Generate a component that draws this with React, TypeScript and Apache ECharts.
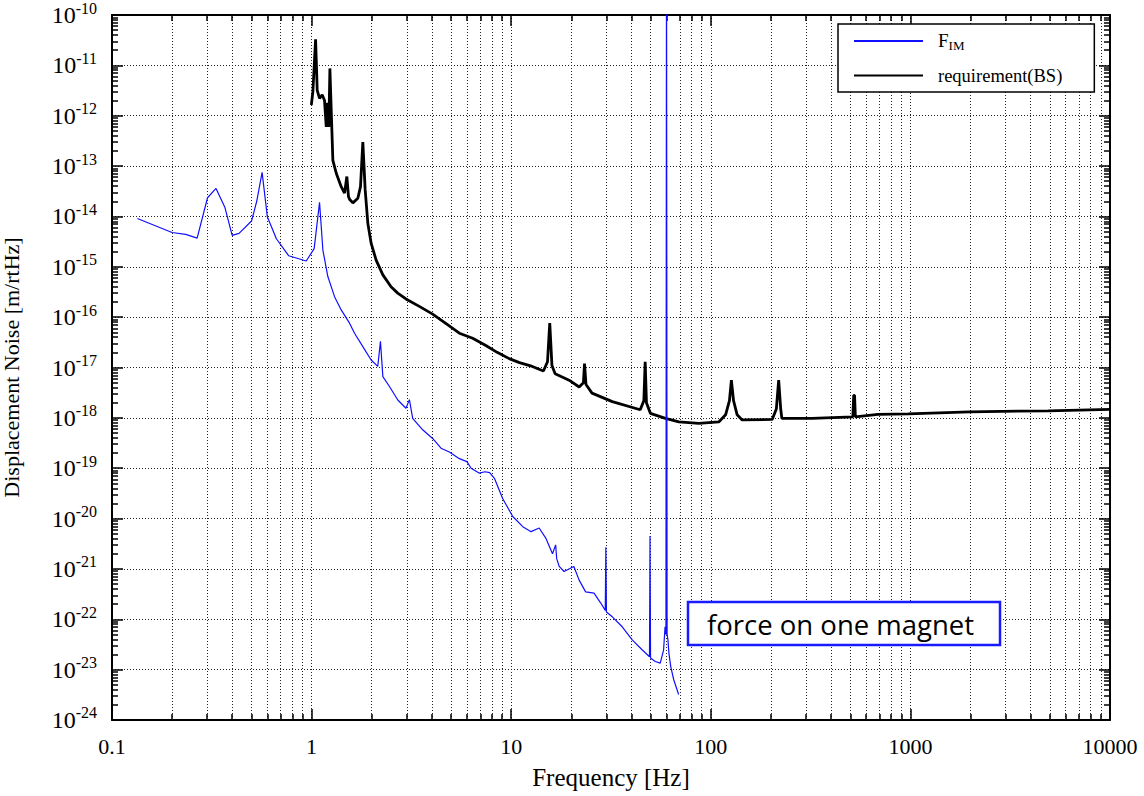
import React, { useEffect, useRef } from "react";
import * as echarts from "echarts";

// ---- Data ----
const fimFreq = [
  0.134, 0.2, 0.234, 0.267, 0.301, 0.332, 0.368, 0.4, 0.433, 0.5, 0.531, 0.565, 0.6, 0.666, 0.767, 0.871, 0.94,
  1.03, 1.096, 1.139, 1.206, 1.303, 1.407, 1.549, 1.641, 1.806, 1.987, 2.145, 2.213, 2.275, 2.455, 2.703, 2.97,
  3.09, 3.21, 3.6, 4.04, 4.45, 4.9, 5.5, 6.0, 6.3, 6.9, 7.4, 7.8, 8.24, 9.06, 10.18, 11.43, 12.58, 13.8, 14.9,
  16.1, 16.7, 16.9, 17.4, 18.4, 20.6, 21.9, 23.6, 26.0, 28.1, 29.6, 29.8, 30.0, 32.1, 36.0, 40.4, 45.4, 49.3,
  49.6, 49.9, 52.7, 55.8, 58.0, 59.0, 59.6, 60.0, 60.4, 61.0, 61.7, 63.0, 65.2, 69.0,
];
const fimAmp = [
  9.1e-15, 4.8e-15, 4.4e-15, 3.7e-15, 2.35e-14, 3.6e-14, 1.5e-14, 4.2e-15, 4.6e-15, 8.1e-15, 2.0e-14, 7.5e-14,
  9.9e-15, 3.6e-15, 1.66e-15, 1.43e-15, 1.3e-15, 2.3e-15, 1.9e-14, 2.15e-15, 6.4e-16, 2.55e-16, 1.39e-16,
  7.6e-17, 4.8e-17, 2.6e-17, 1.41e-17, 1.05e-17, 3.3e-17, 6.6e-18, 4.2e-18, 2.26e-18, 1.55e-18, 2.3e-18,
  9.8e-19, 5.8e-19, 3.9e-19, 2.5e-19, 2.1e-19, 1.55e-19, 1.35e-19, 1.0e-19, 8.0e-20, 8.5e-20, 8.2e-20, 6.3e-20,
  2.5e-20, 1.1e-20, 6.9e-21, 5.5e-21, 6.5e-21, 4.1e-21, 2.0e-21, 3.0e-21, 1.6e-21, 1.12e-21, 8.9e-22, 1.12e-21,
  6.0e-22, 3.5e-22, 3.3e-22, 2.1e-22, 1.5e-22, 2.7e-21, 1.4e-22, 1.12e-22, 7.1e-23, 3.9e-23, 2.45e-23, 1.8e-23,
  4.5e-21, 1.7e-23, 1.45e-23, 1.35e-23, 2.45e-23, 7.1e-23, 5e-23, 1e-8, 5e-23, 3.9e-23, 2.1e-23, 1.15e-23,
  6.3e-24, 3.2e-24,
];

const reqFreq = [
  0.997, 1.015, 1.047, 1.067, 1.096, 1.13, 1.161, 1.184, 1.198, 1.22, 1.235, 1.254, 1.278, 1.329, 1.407, 1.462,
  1.502, 1.53, 1.549, 1.61, 1.705, 1.758, 1.806, 1.855, 1.914, 1.987, 2.105, 2.275, 2.5, 2.7, 2.97, 3.5, 4.04,
  4.7, 5.5, 6.41, 7.5, 8.5, 9.77, 11, 12.5, 14.5, 15.2, 15.6, 16.0, 16.6, 19.5, 21.9, 23.0, 23.3, 23.7, 25.4,
  32.1, 44.3, 46.2, 46.9, 47.6, 49.8, 59.3, 69.2, 87.1, 109.6, 118.6, 124, 126.8, 130, 135.5, 143.6, 203, 213,
  218.8, 224, 227, 321, 515, 520, 525, 530, 687, 977, 1976, 4898, 10000,
];
const reqAmp = [
  1.63e-12, 3.0e-12, 3.3e-11, 3.2e-12, 2.2e-12, 2.6e-12, 2.0e-12, 6.0e-13, 1.8e-12, 6.0e-13, 8.7e-12, 1.3e-12,
  1.3e-13, 7.2e-14, 3.9e-14, 2.9e-14, 6.2e-14, 2.5e-14, 2.2e-14, 1.86e-14, 2.3e-14, 3.9e-14, 3.0e-13, 3.4e-14,
  7.2e-15, 2.95e-15, 1.36e-15, 6.9e-16, 4.0e-16, 3.0e-16, 2.3e-16, 1.6e-16, 1.15e-16, 7.5e-17, 4.8e-17,
  3.8e-17, 2.7e-17, 2.0e-17, 1.5e-17, 1.25e-17, 1.08e-17, 8.5e-18, 1.3e-17, 7.6e-17, 1.1e-17, 7.5e-18, 5.6e-18,
  4.1e-18, 5.0e-18, 1.2e-17, 4.6e-18, 3.1e-18, 2.1e-18, 1.45e-18, 2.2e-18, 1.3e-17, 2.0e-18, 1.23e-18, 9.8e-19,
  8.3e-19, 7.8e-19, 8.3e-19, 1.15e-18, 2.2e-18, 5.6e-18, 2.2e-18, 1.15e-18, 9.1e-19, 9.3e-19, 1.5e-18, 5.6e-18,
  1.5e-18, 9.8e-19, 9.8e-19, 1.05e-18, 2.8e-18, 2.8e-18, 1.05e-18, 1.17e-18, 1.2e-18, 1.32e-18, 1.38e-18,
  1.48e-18,
];

const xDecades = [0.1, 1, 10, 100, 1000];
const yDecades = [1e-24, 1e-23, 1e-22, 1e-21, 1e-20, 1e-19, 1e-18, 1e-17, 1e-16, 1e-15, 1e-14, 1e-13, 1e-12, 1e-11];
const minorMult = [2, 3, 4, 5, 6, 7, 8, 9];

const X_MIN = 0.1, X_MAX = 10000, Y_MIN = 1e-24, Y_MAX = 1e-10;
const GRID = { left: 112, top: 15, width: 998, height: 705 };
const SERIF = "'Liberation Serif', 'Times New Roman', serif";

export default function App() {
  const ref = useRef<HTMLDivElement>(null);
  useEffect(() => {
    if (!ref.current) return;
    const chart = echarts.init(ref.current, undefined, { renderer: "svg" });

    const xDecPx = GRID.width / Math.log10(X_MAX / X_MIN);
    const yDecPx = GRID.height / Math.log10(Y_MAX / Y_MIN);
    const minorLen = 6;
    const fx = Math.pow(10, minorLen / xDecPx);
    const fy = Math.pow(10, minorLen / yDecPx);

    const gridLines: any[] = [];
    const tickLines: any[] = [];
    xDecades.forEach((d) => {
      minorMult.forEach((m) => {
        const x = d * m;
        gridLines.push([{ coord: [x, Y_MIN] }, { coord: [x, Y_MAX] }]);
        tickLines.push([{ coord: [x, Y_MIN] }, { coord: [x, Y_MIN * fy] }]);
        tickLines.push([{ coord: [x, Y_MAX] }, { coord: [x, Y_MAX / fy] }]);
      });
    });
    yDecades.forEach((d) => {
      minorMult.forEach((m) => {
        const y = d * m;
        tickLines.push([{ coord: [X_MIN, y] }, { coord: [X_MIN * fx, y] }]);
        tickLines.push([{ coord: [X_MAX, y] }, { coord: [X_MAX / fx, y] }]);
      });
    });

    // label positions: every decade, nudged just inside the extent to survive float rounding
    const yLabelValues = [...yDecades, Y_MAX].map((v) =>
      v === Y_MIN ? v * 1.0001 : v === Y_MAX ? v * 0.9999 : v
    );

    const dotted = { color: "#222", width: 1, type: [1, 2] as any };

    const xLabel = (v: number) => {
      const e = Math.round(Math.log10(v));
      return e < 0 ? Math.pow(10, e).toFixed(-e) : String(Math.round(Math.pow(10, e)));
    };
    const yLabel = (v: number) => {
      const e = Math.round(Math.log10(v));
      return "{b|10}{s|" + e + "}";
    };

    const axisCommonX = {
      type: "log",
      logBase: 10,
      min: X_MIN,
      max: X_MAX,
      interval: 1,
      axisLine: { show: true, onZero: false, lineStyle: { color: "#000", width: 2 } },
      axisTick: { show: true, inside: true, length: 11, lineStyle: { color: "#000", width: 1.5 } },
    };
    const axisCommonY = {
      type: "log",
      logBase: 10,
      min: Y_MIN,
      max: Y_MAX,
      interval: 1,
      axisLine: { show: true, onZero: false, lineStyle: { color: "#000", width: 2 } },
      axisTick: { show: true, inside: true, length: 11, lineStyle: { color: "#000", width: 1.5 } },
    };

    chart.setOption({
      animation: false,
      textStyle: { fontFamily: SERIF, color: "#000" },
      grid: {
        left: GRID.left,
        top: GRID.top,
        width: GRID.width,
        height: GRID.height,
        containLabel: false,
        outerBoundsMode: "none",
      },
      legend: {
        data: ["F_IM", "requirement(BS)"],
        orient: "vertical",
        left: 838,
        top: 24,
        padding: [7, 32, 7, 15],
        itemGap: 14,
        itemWidth: 69,
        itemHeight: 15,
        borderColor: "#000",
        borderWidth: 1.5,
        backgroundColor: "#fff",
        itemStyle: { opacity: 0 },
        z: 50,
        formatter: (name: string) => (name === "F_IM" ? "{f|F}{sub|IM}" : "{r|requirement(BS)}"),
        textStyle: {
          fontFamily: SERIF,
          color: "#000",
          padding: [0, 0, 0, 10],
          rich: {
            f: { fontSize: 19, fontFamily: SERIF, verticalAlign: "top", lineHeight: 20 },
            sub: { fontSize: 13, fontFamily: SERIF, verticalAlign: "top", lineHeight: 13, padding: [8, 0, 0, 0] },
            r: { fontSize: 18.5, fontFamily: SERIF },
          },
        },
      },
      xAxis: [
        {
          ...axisCommonX,
          position: "bottom",
          name: "Frequency [Hz]",
          nameLocation: "middle",
          nameGap: 45,
          nameMoveOverlap: false,
          nameTextStyle: { fontSize: 25, fontFamily: SERIF, color: "#000" },
          axisLabel: {
            show: true,
            formatter: xLabel,
            fontSize: 22,
            fontFamily: SERIF,
            color: "#000",
            margin: 15,
            showMinLabel: true,
            showMaxLabel: true,
            hideOverlap: false,
          },
          splitLine: { show: true, lineStyle: dotted },
        },
        {
          ...axisCommonX,
          position: "top",
          axisLabel: { show: false },
          splitLine: { show: false },
        },
      ],
      yAxis: [
        {
          ...axisCommonY,
          position: "left",
          name: "Displacement Noise [m/rtHz]",
          nameLocation: "middle",
          nameRotate: 90,
          nameGap: 90,
          nameMoveOverlap: false,
          nameTextStyle: { fontSize: 22, fontFamily: SERIF, color: "#000" },
          axisLabel: {
            show: true,
            customValues: yLabelValues,
            formatter: yLabel,
            margin: 15,
            color: "#000",
            showMinLabel: true,
            showMaxLabel: true,
            hideOverlap: false,
            rich: {
              b: { fontSize: 24, fontFamily: SERIF, color: "#000", verticalAlign: "bottom", lineHeight: 24 },
              s: { fontSize: 16, fontFamily: SERIF, color: "#000", verticalAlign: "bottom", lineHeight: 16, padding: [0, 0, 11, 0] },
            },
          },
          splitLine: { show: true, lineStyle: dotted },
        },
        {
          ...axisCommonY,
          position: "right",
          axisLabel: { show: false },
          splitLine: { show: false },
        },
      ],
      series: [
        {
          name: "_grid",
          type: "line",
          data: [],
          z: 1,
          silent: true,
          markLine: {
            silent: true,
            symbol: ["none", "none"],
            label: { show: false },
            z: 1,
            animation: false,
            emphasis: { disabled: true },
            data: [
              ...gridLines.map((l) => [{ ...l[0], lineStyle: dotted }, l[1]]),
              ...tickLines.map((l) => [
                { ...l[0], lineStyle: { color: "#000", width: 1.5, type: "solid" } },
                l[1],
              ]),
            ],
          },
        },
        {
          name: "requirement(BS)",
          type: "line",
          data: reqFreq.map((f, i) => [f, reqAmp[i]]),
          showSymbol: false,
          symbol: "none",
          lineStyle: { color: "#000", width: 2.8 },
          itemStyle: { color: "#000" },
          z: 3,
          clip: true,
        },
        {
          name: "F_IM",
          type: "line",
          data: fimFreq.map((f, i) => [f, fimAmp[i]]),
          showSymbol: false,
          symbol: "none",
          lineStyle: { color: "#1010ff", width: 1.2 },
          itemStyle: { color: "#1010ff" },
          z: 4,
          clip: true,
        },
      ],
      graphic: [
        {
          type: "rect",
          z: 100,
          shape: { x: 688, y: 602, width: 312, height: 43 },
          style: { fill: "#fff", stroke: "#1a1aff", lineWidth: 2.5 },
        },
        {
          type: "text",
          z: 101,
          x: 707,
          y: 624,
          style: {
            text: "force on one magnet",
            fontSize: 27.5,
            fontFamily: "'Open Sans', Lato, sans-serif",
            fill: "#000",
            verticalAlign: "middle",
          },
        },
      ],
    });
    return () => chart.dispose();
  }, []);
  return <div ref={ref} style={{ position: "absolute", left: 0, top: 0, width: 1144, height: 796 }} />;
}
